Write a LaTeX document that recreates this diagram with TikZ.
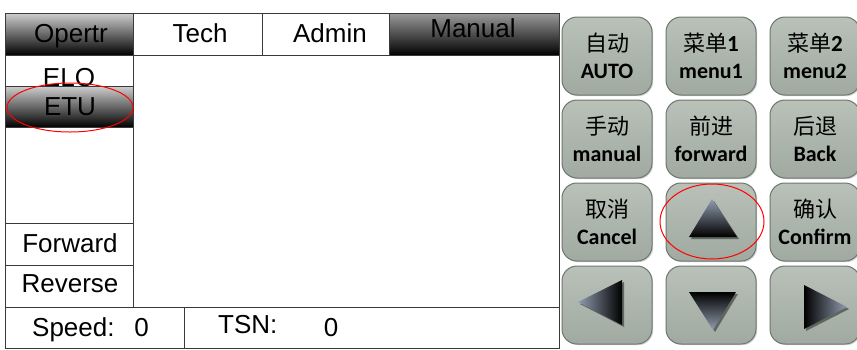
\documentclass[tikz,border=0pt]{standalone}
\usepackage{fontspec}
\setmainfont{Liberation Sans}
\newfontfamily\cjkfont{Noto Sans CJK SC}
\newfontfamily\btnfont{Carlito}
\usetikzlibrary{shadows}
\definecolor{btntop}{HTML}{B9C1B9}
\definecolor{btnbot}{HTML}{A0AAA1}
\definecolor{btnedge}{HTML}{6E776F}
\definecolor{frameline}{HTML}{3A3A3A}
\definecolor{tritop}{HTML}{929DB0}
\definecolor{trishadow}{HTML}{5E665F}
\begin{document}
\begin{tikzpicture}[x=1pt,y=-1pt,
  cell/.style={draw=frameline, line width=0.8pt, inner sep=0pt, anchor=north west},
  darktab/.style={cell, top color=white!80!black, bottom color=black},
  btn/.style={draw=btnedge, line width=1pt, rounded corners=15pt, top color=btntop,
    bottom color=btnbot, minimum width=90pt, minimum height=78pt, inner sep=0pt,
    drop shadow={shadow xshift=1.2pt, shadow yshift=-1.2pt, opacity=0.35}},
  zh/.style={font=\cjkfont\fontsize{22}{24}\selectfont, inner sep=0pt},
  en/.style={font=\btnfont\bfseries\fontsize{22}{26}\selectfont, inner sep=0pt},
  txt/.style={font=\fontsize{26}{30}\selectfont, inner sep=0pt, anchor=base},
  redmark/.style={draw=red, line width=1pt}
]
\useasboundingbox (0,0) rectangle (857,349);
\fill[white] (0,0) rectangle (857,349);
\clip (0,0) rectangle (857,349);

% screen frame
\node[cell, minimum width=554pt, minimum height=335pt] (screen) at (5,13) {};
% tabs
\node[darktab, minimum width=128pt, minimum height=42pt] (opertr) at (5,13) {};
\node[cell, minimum width=129pt, minimum height=42pt] (tech) at (133,13) {};
\node[cell, minimum width=127pt, minimum height=42pt] (admin) at (262,13) {};
\node[darktab, minimum width=170pt, minimum height=42pt, top color=white!60!black] (manual) at (389,13) {};
\node[txt] (opertrtxt) at (71,42) {Opertr};
\node[txt] (techtxt) at (200,42) {Tech};
\node[txt] (admintxt) at (330,42) {Admin};
\node[txt] (manualtxt) at (473,37) {Manual};
% left column
\node[cell, minimum width=128pt, minimum height=252pt] (leftcol) at (5,55) {};
\node[txt] (elotxt) at (69,86.5) {ELO};
\node[darktab, minimum width=128pt, minimum height=41pt] (etu) at (5,86) {};
\node[txt] (etutxt) at (70,115) {ETU};
\node[cell, minimum width=128pt, minimum height=42pt] (fwd) at (5,223) {};
\node[cell, minimum width=128pt, minimum height=42pt] (rev) at (5,265) {};
\node[txt] (fwdtxt) at (70,252) {Forward};
\node[txt] (revtxt) at (70,292) {Reverse};
% bottom bar
\node[cell, minimum width=179pt, minimum height=41pt] (speedcell) at (5,307) {};
\node[cell, minimum width=375pt, minimum height=41pt] (tsncell) at (184,307) {};
\node[txt, anchor=base west] (speedlbl) at (32,336) {Speed:};
\node[txt] (speedval) at (141.5,336) {0};
\node[txt, anchor=base west] (tsnlbl) at (218,333) {TSN:};
\node[txt] (tsnval) at (331,336) {0};

% buttons
\node[btn] (auto) at (607,56) {};
\node[btn] (menu1) at (711,56) {};
\node[btn] (menu2) at (815,56) {};
\node[btn] (manualbtn) at (607,139) {};
\node[btn] (forward) at (711,139) {};
\node[btn] (back) at (815,139) {};
\node[btn] (cancel) at (607,222) {};
\node[btn] (upbtn) at (711,222) {};
\node[btn] (confirm) at (815,222) {};
\node[btn] (leftbtn) at (607,305) {};
\node[btn] (downbtn) at (711,305) {};
\node[btn] (rightbtn) at (815,305) {};

\node[zh] at ([yshift=13pt]auto.center) {自动};
\node[en] at ([yshift=-15pt]auto.center) {AUTO};
\node[zh] at ([yshift=13pt]menu1.center) {菜单{\btnfont\bfseries\fontsize{23}{26}\selectfont 1}};
\node[en] at ([yshift=-15pt]menu1.center) {menu1};
\node[zh] at ([yshift=13pt]menu2.center) {菜单{\btnfont\bfseries\fontsize{23}{26}\selectfont 2}};
\node[en] at ([yshift=-15pt]menu2.center) {menu2};
\node[zh] at ([yshift=13pt]manualbtn.center) {手动};
\node[en] at ([yshift=-15pt]manualbtn.center) {manual};
\node[zh] at ([yshift=13pt]forward.center) {前进};
\node[en] at ([yshift=-15pt]forward.center) {forward};
\node[zh] at ([yshift=13pt]back.center) {后退};
\node[en] at ([yshift=-15pt]back.center) {Back};
\node[zh] at ([yshift=13pt]cancel.center) {取消};
\node[en] at ([yshift=-15pt]cancel.center) {Cancel};
\node[zh] at ([yshift=13pt]confirm.center) {确认};
\node[en] at ([yshift=-15pt]confirm.center) {Confirm};

% triangles: shadows
\fill[trishadow] (714,201) -- (739,239) -- (691,239) -- cycle;
\fill[trishadow] (580,304) -- (624,282) -- (624,327) -- cycle;
\fill[trishadow] (691,294) -- (738,294) -- (715,332) -- cycle;
\fill[trishadow] (806,287) -- (849,309) -- (806,331) -- cycle;
% triangles
\shade[top color=tritop, bottom color=black] (712,199) -- (737,237) -- (689,237) -- cycle;
\shade[left color=tritop, right color=black] (578,302) -- (622,280) -- (622,325) -- cycle;
\shade[top color=black, bottom color=tritop] (689,292) -- (736,292) -- (713,330) -- cycle;
\shade[left color=black, right color=tritop] (804,285) -- (847,307) -- (804,329) -- cycle;

% red marks
\draw[redmark] (70,107.5) ellipse [x radius=63, y radius=24.5];
\draw[redmark] (712,221.5) ellipse [x radius=52, y radius=37.5];
\end{tikzpicture}
\end{document}
